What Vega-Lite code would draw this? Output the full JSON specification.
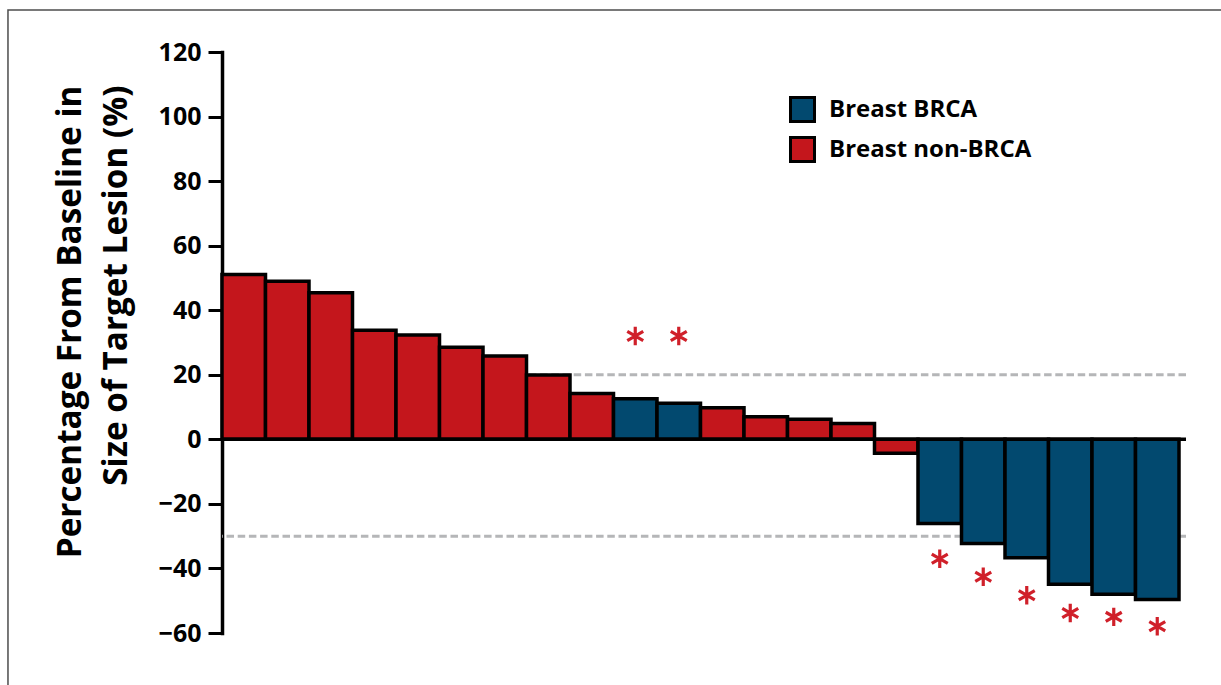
{
  "$schema": "https://vega.github.io/schema/vega-lite/v6.json",
  "width": 964,
  "height": 581,
  "autosize": {"type": "none"},
  "padding": {"left": 222, "top": 52, "right": 35, "bottom": 52},
  "background": "white",
  "datasets": {
    "bars": [
      {"id": 1, "value": 51.1, "group": "Breast non-BRCA"},
      {"id": 2, "value": 49.0, "group": "Breast non-BRCA"},
      {"id": 3, "value": 45.4, "group": "Breast non-BRCA"},
      {"id": 4, "value": 33.8, "group": "Breast non-BRCA"},
      {"id": 5, "value": 32.3, "group": "Breast non-BRCA"},
      {"id": 6, "value": 28.5, "group": "Breast non-BRCA"},
      {"id": 7, "value": 25.8, "group": "Breast non-BRCA"},
      {"id": 8, "value": 19.9, "group": "Breast non-BRCA"},
      {"id": 9, "value": 14.2, "group": "Breast non-BRCA"},
      {"id": 10, "value": 12.6, "group": "Breast BRCA"},
      {"id": 11, "value": 11.2, "group": "Breast BRCA"},
      {"id": 12, "value": 9.8, "group": "Breast non-BRCA"},
      {"id": 13, "value": 7.0, "group": "Breast non-BRCA"},
      {"id": 14, "value": 6.2, "group": "Breast non-BRCA"},
      {"id": 15, "value": 4.9, "group": "Breast non-BRCA"},
      {"id": 16, "value": -4.3, "group": "Breast non-BRCA"},
      {"id": 17, "value": -26.1, "group": "Breast BRCA"},
      {"id": 18, "value": -32.3, "group": "Breast BRCA"},
      {"id": 19, "value": -36.7, "group": "Breast BRCA"},
      {"id": 20, "value": -44.9, "group": "Breast BRCA"},
      {"id": 21, "value": -48.0, "group": "Breast BRCA"},
      {"id": 22, "value": -49.6, "group": "Breast BRCA"}
    ],
    "stars": [
      {"id": 10, "value": 32.0},
      {"id": 11, "value": 32.0},
      {"id": 17, "value": -37.0},
      {"id": 18, "value": -42.6},
      {"id": 19, "value": -48.3},
      {"id": 20, "value": -53.8},
      {"id": 21, "value": -55.0},
      {"id": 22, "value": -57.9}
    ],
    "refs": [
      {"value": 20},
      {"value": -30}
    ]
  },
  "layer": [
    {
      "data": {"values": [{}]},
      "mark": {"type": "rect", "filled": false, "color": "#4d4d4d", "strokeWidth": 1.5},
      "encoding": {
        "x": {"datum": 1, "type": "ordinal", "bandPosition": -4.92, "axis": null,
              "scale": {"range": [0, 957], "paddingInner": 0, "paddingOuter": 0}},
        "x2": {"datum": 22, "bandPosition": 1.99},
        "y": {"datum": 133.0, "type": "quantitative",
              "scale": {"domain": [-60, 120], "nice": false, "zero": false}},
        "y2": {"datum": -76.5}
      }
    },
    {
      "data": {"name": "refs"},
      "mark": {"type": "rule", "color": "#B5B6B8", "strokeWidth": 3, "strokeDash": [7.5, 3.7]},
      "encoding": {
        "y": {"field": "value", "type": "quantitative",
              "scale": {"domain": [-60, 120], "nice": false, "zero": false}}
      }
    },
    {
      "data": {"name": "bars"},
      "mark": {"type": "bar", "stroke": "black", "strokeWidth": 3.5},
      "encoding": {
        "x": {"field": "id", "type": "ordinal", "axis": null,
              "scale": {"range": [0, 957], "paddingInner": 0, "paddingOuter": 0}},
        "y": {"field": "value", "type": "quantitative",
              "scale": {"domain": [-60, 120], "nice": false, "zero": false},
              "axis": {
                "values": [-60, -40, -20, 0, 20, 40, 60, 80, 100, 120],
                "domain": true,
                "domainColor": "black",
                "domainWidth": 3.5,
                "domainCap": "square",
                "grid": false,
                "ticks": true,
                "tickSize": 14,
                "tickWidth": 3,
                "tickColor": "black",
                "labelPadding": 7,
                "labelFont": "Open Sans",
                "labelFontWeight": "bold",
                "labelFontSize": 25,
                "labelColor": "black",
                "title": ["Percentage From Baseline in", "Size of Target Lesion (%)"],
                "titleFont": "Open Sans",
                "titleFontWeight": "bold",
                "titleFontSize": 33.3,
                "titleColor": "black",
                "titleLineHeight": 46,
                "titleAngle": 270,
                "titleAlign": "right",
                "titleBaseline": "alphabetic",
                "titleX": -142,
                "titleY": 33
              }},
        "color": {
          "field": "group", "type": "nominal",
          "scale": {"domain": ["Breast BRCA", "Breast non-BRCA"], "range": ["#02496F", "#C4161C"]},
          "legend": {
            "title": null,
            "orient": "none",
            "legendX": 567,
            "legendY": 44,
            "padding": 0,
            "symbolType": "square",
            "symbolSize": 576,
            "symbolStrokeColor": "black",
            "symbolStrokeWidth": 3,
            "symbolOpacity": 1,
            "labelFont": "Open Sans",
            "labelFontWeight": "bold",
            "labelFontSize": 24,
            "labelColor": "black",
            "labelOffset": 13,
            "labelLimit": 500,
            "rowPadding": 3
          }
        }
      }
    },
    {
      "data": {"values": [{"value": 0}]},
      "mark": {"type": "rule", "color": "black", "strokeWidth": 3.5},
      "encoding": {
        "y": {"field": "value", "type": "quantitative",
              "scale": {"domain": [-60, 120], "nice": false, "zero": false}}
      }
    },
    {
      "data": {"name": "stars"},
      "mark": {"type": "point", "shape": "M0,-1L0,1M-0.866,-0.5L0.866,0.5M-0.866,0.5L0.866,-0.5",
               "filled": false, "color": "#D0202A", "strokeWidth": 3.2, "size": 340, "opacity": 1},
      "encoding": {
        "x": {"field": "id", "type": "ordinal", "axis": null,
              "scale": {"range": [0, 957], "paddingInner": 0, "paddingOuter": 0}},
        "y": {"field": "value", "type": "quantitative",
              "scale": {"domain": [-60, 120], "nice": false, "zero": false}}
      }
    }
  ],
  "config": {
    "view": {"stroke": null}
  }
}
